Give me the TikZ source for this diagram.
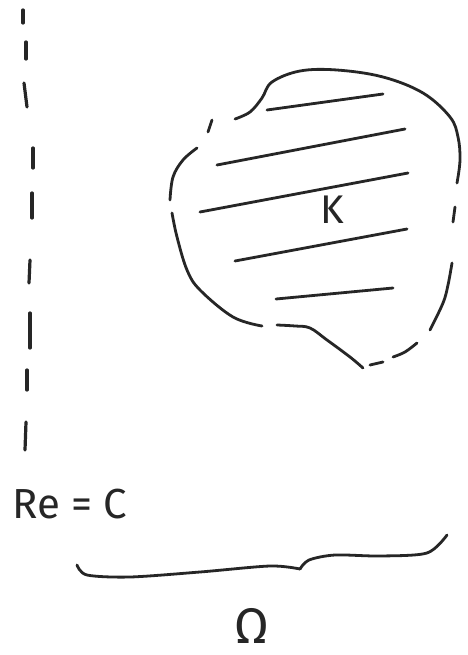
\documentclass[tikz,border=0pt]{standalone}
\usepackage{fontspec}
\setsansfont{Fira Sans}
\begin{document}
\begin{tikzpicture}[x=1pt,y=-1pt,
  pen/.style={draw=black!85, line width=2.8pt, line cap=round, line join=round},
  lbl/.style={text=black!85, inner sep=0pt}]
\useasboundingbox (0,0) rectangle (467,655);
\fill[white] (0,0) rectangle (467,655);
% dashed vertical line
\foreach \xa/\ya/\xb/\yb in {23/10/23/23, 26/42/26/59, 24/83/27/107, 33/148/33/168, 32/193/32/218, 30/260/29/283, 30/313/30/348, 27/370/27/390, 26/422/25/450}
  \draw[pen, line width=3.2pt] (\xa,\ya) -- (\xb,\yb);
% blob outline K
\draw[pen] (212,120) -- (208,132);
\draw[pen] plot[smooth, tension=0.6] coordinates {(235,119) (250,112) (262,98) (272,82) (300,71) (337,70) (383,77) (423,93) (450,117) (458,137) (460,160) (457,183)};
\draw[pen] (455,207) -- (453,222);
\draw[pen] plot[smooth, tension=0.6] coordinates {(452,263) (448,285) (443,303) (430,330)};
\draw[pen] plot[smooth, tension=0.6] coordinates {(417,343) (405,352) (393,357)};
\draw[pen] plot[smooth, tension=0.6] coordinates {(383,362) (370,365)};
\draw[pen] plot[smooth, tension=0.6] coordinates {(363,368) (350,357) (327,340) (310,328) (295,326) (277,325)};
\draw[pen] plot[smooth, tension=0.6] coordinates {(262,326) (233,317) (200,290) (187,270) (177,237) (172,213)};
\draw[pen] plot[smooth, tension=0.6] coordinates {(170,200) (173,177) (183,160) (197,148)};
% hatching
\draw[pen] (267,110) -- (383,94);
\draw[pen] (217,165) -- (405,129);
\draw[pen] (200,212) -- (408,173);
\draw[pen] (235,261) -- (407,229);
\draw[pen] (276,299) -- (393,288);
\node[lbl, font=\sffamily\fontsize{40}{40}\selectfont, anchor=base] (K) at (332,223) {K};
% Re = C
\node[lbl, font=\sffamily\fontsize{42}{42}\selectfont, anchor=base west] (re) at (12,518) {Re = C};
% brace
\draw[pen] plot[smooth, tension=0.5] coordinates {(77,565) (87,575) (130,577) (200,572) (270,566) (300,569)};
\draw[pen] plot[smooth, tension=0.5] coordinates {(300,569) (309,560) (335,555) (380,556) (427,553) (447,535)};
% Omega
\node[lbl, font=\sffamily\fontsize{50}{50}\selectfont, anchor=base] (om) at (252,643) {Ω};
\end{tikzpicture}
\end{document}
